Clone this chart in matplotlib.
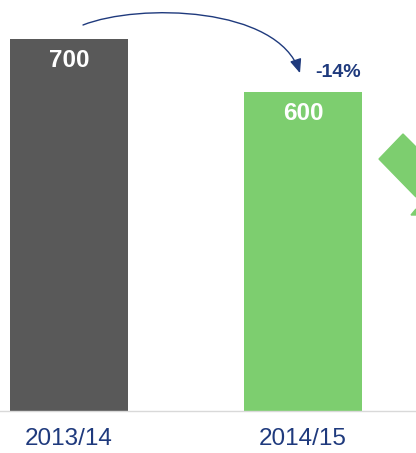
import matplotlib
matplotlib.use("Agg")
import matplotlib.pyplot as plt
from matplotlib.patches import Polygon, FancyArrowPatch
from matplotlib.path import Path

plt.rcParams['font.family'] = ['Liberation Sans', 'DejaVu Sans']

# Data
years = ["2013/14", "2014/15"]
values = [700, 600]
change_label = "-14%"

bar_colors = ["#595959", "#7dce6f"]
navy = "#1f3a7d"

fig = plt.figure(figsize=(4.16, 4.53), dpi=100)
ax = fig.add_axes([0, 42 / 453, 1, 411 / 453])

x = [0, 1]
ax.bar(x, values, width=118 / 234, color=bar_colors)
ax.set_xlim(-69 / 234, 1 + 113 / 234)
ax.set_ylim(0, 411 / (372 / 700))

# value labels inside bars
for xi, v in zip(x, values):
    ax.annotate(str(v), xy=(xi, v), xytext=(0, -15.5), textcoords="offset points",
                ha="center", va="center", color="white", fontsize=17.5, fontweight="bold")

# curved arrow from first to second bar (cubic bezier, offsets in pixels)
sx, sy = 234, 372 / 700  # pixels per unit in x and y
start = (x[0] + 14 / sx, values[0] + 14 / sy)
c1 = (x[0] + 70 / sx, values[0] + 36 / sy)
c2 = (x[1] - 25 / sx, values[1] + 86 / sy)
end = (x[1] - 3 / sx, values[1] + 19 / sy)
arc = Path([start, c1, c2, end], [Path.MOVETO, Path.CURVE4, Path.CURVE4, Path.CURVE4])
ax.add_patch(FancyArrowPatch(path=arc, arrowstyle="-|>,head_length=0.6,head_width=0.25",
                             color=navy, lw=1, mutation_scale=14, transform=ax.transData))
ax.annotate(change_label, xy=(1, values[1]), xytext=(25.5, 14.5), textcoords="offset points",
            ha="center", va="center", color=navy, fontsize=14, fontweight="bold")

# axes styling
for s in ["top", "right", "left"]:
    ax.spines[s].set_visible(False)
ax.spines["bottom"].set_color("#d9d9d9")
ax.spines["bottom"].set_linewidth(1)
ax.set_yticks([])
ax.set_xticks(x)
ax.set_xticklabels(years, fontsize=17.5, color=navy)
ax.tick_params(axis="x", length=0, pad=12)

# decorative green shape cut off at the right edge
W, H = 416, 453
def fp(pts):
    return [(a / W, 1 - b / H) for a, b in pts]
fig.patches.append(Polygon(fp([(379, 159), (403, 134), (416, 147), (416, 197)]),
                           closed=True, color=bar_colors[1], transform=fig.transFigure))
fig.patches.append(Polygon(fp([(411, 215), (416, 209), (416, 215)]),
                           closed=True, color=bar_colors[1], transform=fig.transFigure))

fig.savefig("out.png", dpi=100)
